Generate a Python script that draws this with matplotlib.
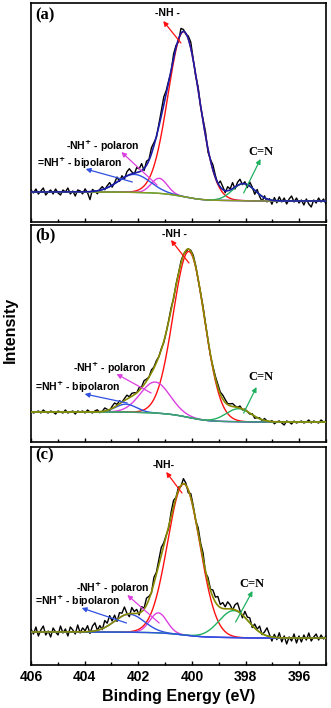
import numpy as np
import matplotlib
matplotlib.use("Agg")
import matplotlib.pyplot as plt
from matplotlib.ticker import MultipleLocator

# ---------------- data ----------------
panel_labels = ["(a)", "(b)", "(c)"]
xticks = [406, 404, 402, 400, 398, 396]

# component order: -NH- (main), polaron, bipolaron, C=N
centers_a = [400.30, 401.22, 402.15, 398.07]
heights_a = [165, 15, 18, 17]
fwhm_a = [1.38, 0.70, 1.40, 1.00]
bg_a = [30, 21]  # high-BE side, low-BE side

centers_b = [400.11, 401.37, 402.46, 398.26]
heights_b = [166, 31, 8, 13]
fwhm_b = [1.38, 1.30, 0.90, 1.10]
bg_b = [30, 20]

centers_c = [400.30, 401.25, 402.33, 398.44]
heights_c = [151, 20, 18, 27]
fwhm_c = [1.42, 0.75, 1.30, 1.30]
bg_c = [33, 27]

noise_a = [2, -1, 3, -2, 1, 4, -3, 0, 2, -2, 3,
           -1, -3, 2, 0, 4, -2, 1, -4, 2, 1, -2,
           3, -1, -8, 2, 0, -3, 1, 3, -1, 2, 4,
           -2, 1, 5, -1, 3, -2, 4, 6, 2, -1, 5,
           3, 7, -2, 4, 1, 6, 3, -1, 2, 5, 8,
           3, 1, -2, 4, 2, -3, 5, 2, -1, 3, 6,
           1, -2, 3, -1, 2, 4, -3, 1, 5, 2, -1,
           6, 3, -2, 4, 1, 6, -2, 3, 5, -1, 2,
           -3, 4, 1, -4, 3, -2, -5, 2, -3, 1, -4,
           3, -2, 4, -1, 3, -3, 2, 5, -1, 3, -2,
           1, -4, 2, -3, -6, 1, -2, 3, -1, 2, -3]

noise_b = [1, -1, 0, 1, -1, 2, 0, -1, 1, 0, -2,
           1, 0, -1, 2, -1, 0, 1, -2, 1, 0, 1,
           -1, 2, 0, -1, 1, 2, -1, 0, 3, 1, -1,
           2, 4, 1, 3, 0, 2, 4, 1, 3, 2, 0,
           3, 1, 4, 2, 0, 3, 1, 2, 0, 1, -1,
           0, 1, 2, -1, 1, 0, 2, 1, -1, 0, 1,
           2, 1, -1, 0, 2, 1, 0, -1, 1, 2, 3,
           2, 4, 3, 1, 2, 3, 1, 0, 2, -1, 1,
           0, -1, 1, -2, 0, 1, -1, 2, 0, -1, 1,
           -2, 0, 1, -1, -3, 1, 0, -2, 1, -1, 0,
           1, -1, 0, 2, -1, 1, 0, -1, 2, 0, 1]

noise_c = [3, -2, 5, -4, 2, 6, -3, 1, -5, 4, 0,
           -3, 6, -1, 3, -4, 5, 2, -2, 7, -1, 4,
           1, 6, -2, 5, 8, 0, 4, -1, 7, 3, 9,
           2, 6, -2, 5, 3, 8, 1, -3, 6, 2, 4,
           -2, 5, 1, 7, 3, -1, 6, 2, 5, 8, 3,
           1, -2, 4, 6, 0, 3, -1, 5, 2, -3, 4,
           2, -1, 5, 3, 6, -2, 4, 1, 7, 5, 9,
           3, 6, 2, 7, 4, -1, 5, 8, 2, -3, 6,
           3, 5, -2, 4, 1, 6, -1, 3, 8, 2, -4,
           3, -2, 5, -4, 2, -6, 1, -3, 4, -5, 2,
           -4, 3, -2, 5, -3, 1, 4, -2, 3, -1, 2]

nh_labels = ["-NH -", "-NH -", "-NH-"]

# annotation positions (eV, intensity): text, arrow tail -> arrow head
ann = [
    dict(label=(405.48, 207),
         nh=((400.93, 209), (400.41, 179), (401.07, 201)),
         pol=((403.33, 76), (401.30, 37), (402.63, 70)),
         bip=((404.19, 59), (402.22, 40), (403.96, 53)),
         cn=((397.44, 70), (398.07, 29), (397.44, 63))),
    dict(label=(405.48, 207),
         nh=((400.67, 208), (400.11, 179), (400.78, 202)),
         pol=((403.07, 74), (401.52, 49), (402.81, 68)),
         bip=((404.26, 55), (402.41, 39), (404.00, 48)),
         cn=((397.44, 65), (398.07, 29), (397.59, 55))),
    dict(label=(405.48, 210),
         nh=((401.04, 200), (400.37, 172), (400.96, 193)),
         pol=((402.96, 77), (401.22, 42), (402.41, 70)),
         bip=((404.26, 64), (402.44, 42), (404.11, 57)),
         cn=((397.78, 81), (398.37, 43), (397.74, 74))),
]

# ---------------- styling ----------------
RED = "#ff1010"
MAG = "#dd40e0"
BLUE = "#3050e0"
GREEN = "#20b060"
OLIVE = "#8a8a00"
DKBLUE = "#1c1ca8"

panels = [
    (centers_a, heights_a, fwhm_a, bg_a, noise_a, DKBLUE, "#8a9a20", 219),
    (centers_b, heights_b, fwhm_b, bg_b, noise_b, OLIVE, "#40a070", 217),
    (centers_c, heights_c, fwhm_c, bg_c, noise_c, OLIVE, BLUE, 218),
]
rects = [
    [31 / 331, (708 - 222) / 708, 295 / 331, 219 / 708],
    [31 / 331, (708 - 442) / 708, 295 / 331, 217 / 708],
    [31 / 331, (708 - 665) / 708, 295 / 331, 218 / 708],
]

SANS = ["Liberation Sans", "DejaVu Sans"]
SERIF = ["Liberation Serif", "DejaVu Serif"]

fig = plt.figure(figsize=(3.31, 7.08), dpi=100)


def gauss(x, c, h, w):
    s = w / 2.3548
    return h * np.exp(-0.5 * ((x - c) / s) ** 2)


for i, (cen, hei, fw, bg, noise, envc, bgc, ytop) in enumerate(panels):
    ax = fig.add_axes(rects[i])
    x = np.linspace(406, 395, 600)
    comps = [gauss(x, c, h, w) for c, h, w in zip(cen, hei, fw)]
    total = np.sum(comps, axis=0)
    # Shirley-like background: integrate from low-BE side
    cum = np.cumsum(total[::-1])[::-1]
    background = bg[1] + (bg[0] - bg[1]) * cum / cum[0]
    env = background + total

    xr = np.linspace(406, 395, len(noise))
    raw = np.interp(xr, x[::-1], env[::-1]) + np.array(noise)
    ax.plot(xr, raw, color="black", lw=1.0, zorder=2)

    colors = [RED, MAG, BLUE, GREEN]
    for comp, col in zip(comps, colors):
        ax.plot(x, background + comp, color=col, lw=1.0, zorder=3)
    ax.plot(x, background, color=bgc, lw=1.0, zorder=3)
    ax.plot(x, env, color=envc, lw=1.2, zorder=4)

    ax.set_xlim(406, 395)
    ax.set_ylim(0, ytop)
    ax.set_yticks([])
    for sp in ax.spines.values():
        sp.set_linewidth(1.2)
    ax.xaxis.set_major_locator(MultipleLocator(2))
    ax.xaxis.set_minor_locator(MultipleLocator(1))
    ax.tick_params(axis="x", which="major", direction="in", length=3, width=1)
    ax.tick_params(axis="x", which="minor", direction="in", length=2, width=1)
    if i < 2:
        ax.set_xticklabels([])
    else:
        ax.set_xticks(xticks)
        ax.set_xticklabels([str(t) for t in xticks], fontsize=10,
                           fontweight="bold", family=SANS)
        ax.set_xlabel("Binding Energy (eV)", fontsize=11.5, fontweight="bold",
                      family=SANS, labelpad=4)

    a = ann[i]
    ax.text(*a["label"], panel_labels[i], fontsize=12, fontweight="bold",
            family=SERIF, ha="center", va="center")
    specs = [
        ("nh", nh_labels[i], RED, SANS, 7.5),
        ("pol", r"-NH$^{\mathbf{+}}$ - polaron", MAG, SANS, 7.5),
        ("bip", r"=NH$^{\mathbf{+}}$ - bipolaron", BLUE, SANS, 7.5),
        ("cn", "C=N", GREEN, SERIF, 9),
    ]
    for key, txt, col, fam, fs in specs:
        (tx, ty), tail, head = a[key]
        ax.text(tx, ty, txt, fontsize=fs, fontweight="bold", family=fam,
                ha="center", va="center", zorder=6)
        ax.annotate("", xy=head, xytext=tail,
                    arrowprops=dict(arrowstyle="-|>", color=col, lw=0.9,
                                    mutation_scale=7, shrinkA=0, shrinkB=0),
                    zorder=5)

fig.text(10 / 331, 1 - 330 / 708, "Intensity", rotation=90, fontsize=11.5,
         fontweight="bold", family=SANS, ha="center", va="center")

fig.savefig("out.png", dpi=100)
